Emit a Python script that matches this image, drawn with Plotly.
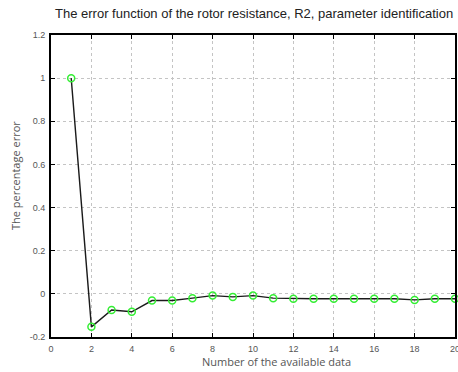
import plotly.graph_objects as go

x_vals = list(range(1, 21))
error_vals = [1.0, -0.153, -0.075, -0.083, -0.031, -0.031, -0.02, -0.008, -0.014, -0.008,
              -0.02, -0.023, -0.023, -0.023, -0.023, -0.023, -0.023, -0.028, -0.023, -0.023]
x_ticks = list(range(0, 21, 2))
y_ticks = [-0.2, 0, 0.2, 0.4, 0.6, 0.8, 1.0, 1.2]
y_tick_text = ["-0.2", "0", "0.2", "0.4", "0.6", "0.8", "1", "1.2"]

W, H = 458, 372
L, R, T, B = 51, 3, 35, 35
PW, PH = W - L - R, H - T - B

def px_x(px):
    return (px - L) / PW

def px_y(py):
    return (H - B - py) / PH

fig = go.Figure()
fig.add_trace(go.Scatter(
    x=x_vals, y=error_vals, mode="lines+markers",
    line=dict(color="#1a1a1a", width=1.4),
    marker=dict(symbol="circle-open", size=7, color="#33ee33", line=dict(width=1.5, color="#33ee33")),
    showlegend=False, cliponaxis=False,
))

axis_common = dict(
    showline=True, linecolor="black", linewidth=2, mirror="allticks",
    ticks="inside", ticklen=4, tickcolor="black", tickwidth=1,
    showgrid=True, gridcolor="#c4c4c4", griddash="dot", gridwidth=1,
    zeroline=False, automargin=False, ticklabeloverflow="allow",
    tickfont=dict(family="Liberation Sans, Arial", size=9, color="#555555"),
)

fig.update_layout(
    width=W, height=H,
    margin=dict(l=L, r=R, t=T, b=B, autoexpand=False),
    paper_bgcolor="white", plot_bgcolor="white",
    xaxis=dict(range=[0, 20], tickvals=x_ticks, ticklabelstandoff=2, **axis_common),
    yaxis=dict(range=[-0.2, 1.2], tickvals=y_ticks, ticktext=y_tick_text, ticklabelstandoff=2, **axis_common),
    annotations=[
        dict(text="The error function of the rotor resistance, R2, parameter identification",
             x=px_x(254), y=px_y(14), xref="paper", yref="paper", showarrow=False,
             xanchor="center", yanchor="middle",
             font=dict(family="Liberation Sans, Arial", size=13, color="#222222")),
        dict(text="Number of the available data", x=px_x(276), y=px_y(361), xref="paper", yref="paper",
             showarrow=False, xanchor="center", yanchor="middle",
             font=dict(family="Open Sans", size=11, color="#555555")),
        dict(text="The percentage error", x=px_x(15), y=px_y(176), xref="paper", yref="paper",
             showarrow=False, textangle=-90, xanchor="center", yanchor="middle",
             font=dict(family="Open Sans", size=11, color="#555555")),
    ],
)
fig.write_html("out.html", config={"displayModeBar": False},
               post_script="document.body.style.margin='0';document.body.style.overflow='hidden';")
